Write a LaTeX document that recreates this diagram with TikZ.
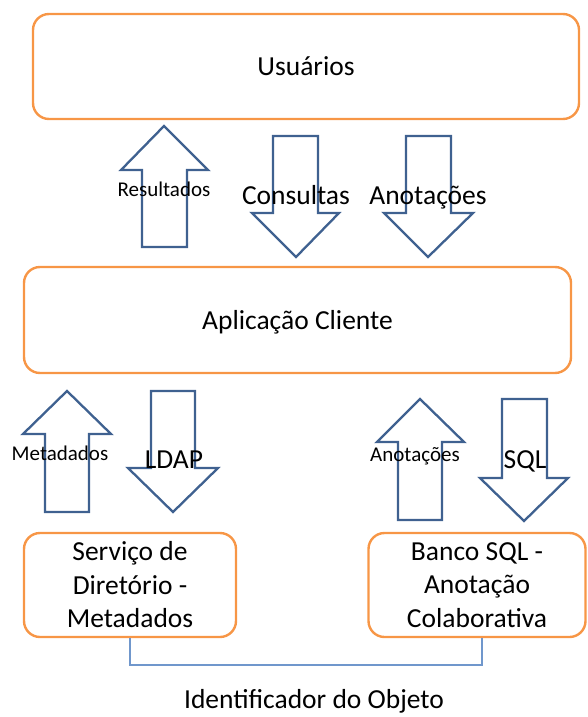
\documentclass[tikz,border=0pt]{standalone}
\usepackage{fontspec}
\setmainfont{Carlito}
\definecolor{boxorange}{HTML}{F79646}
\definecolor{arrowblue}{HTML}{3F6190}
\definecolor{connblue}{HTML}{7097CC}
\begin{document}
\begin{tikzpicture}[x=1pt,y=-1pt,
  box/.style={draw=boxorange,line width=2.4pt,rounded corners=16pt,inner sep=0pt,align=center,
    font=\fontsize{27.5}{33.5}\selectfont},
  fixedline/.style={text height=18pt,text depth=0pt},
  blockarrow/.style={draw=arrowblue,line width=2.3pt,line join=miter},
  biglabel/.style={inner sep=0pt,text height=18pt,text depth=0pt,font=\fontsize{27.5}{33.5}\selectfont},
  smalllabel/.style={inner sep=0pt,text height=13.6pt,text depth=0pt,font=\fontsize{21}{25}\selectfont},
  conn/.style={draw=connblue,line width=1.2pt}]
\useasboundingbox (0,0) rectangle (587,717);
% boxes
\node[box,fixedline,minimum width=546pt,minimum height=105pt] (usr) at (306,66.5) {Usuários};
\node[box,fixedline,minimum width=547pt,minimum height=106pt] (app) at (297.5,320) {Aplicação Cliente};
\node[box,minimum width=212pt,minimum height=104pt] (dir) at (130,585) {Serviço de\\Diretório -\\Metadados};
\node[box,minimum width=217pt,minimum height=104pt] (sql) at (477,585) {Banco SQL -\\Anotação\\Colaborativa};
% upper block arrows
\draw[blockarrow] (164,126) -- (208,170) -- (187,170) -- (187,247) -- (142,247) -- (142,170) -- (121,170) -- cycle;
\draw[blockarrow] (273,136) -- (318,136) -- (318,213) -- (339,213) -- (296,257) -- (252,213) -- (273,213) -- cycle;
\draw[blockarrow] (406,136) -- (451,136) -- (451,213) -- (473,213) -- (428,257) -- (384,213) -- (406,213) -- cycle;
% lower block arrows
\draw[blockarrow] (67,391) -- (111,434) -- (89,434) -- (89,512) -- (45,512) -- (45,434) -- (23,434) -- cycle;
\draw[blockarrow] (151,391) -- (195,391) -- (195,468) -- (218,468) -- (173,512) -- (128,468) -- (151,468) -- cycle;
\draw[blockarrow] (420,399) -- (464,442) -- (442,442) -- (442,520) -- (398,520) -- (398,442) -- (377,442) -- cycle;
\draw[blockarrow] (502,399) -- (547,399) -- (547,478) -- (568,478) -- (524,521) -- (480,478) -- (502,478) -- cycle;
% labels
\node[smalllabel] (lres) at (164,190) {Resultados};
\node[biglabel] (lcon) at (296,195) {Consultas};
\node[biglabel] (lano) at (428,195) {Anotações};
\node[smalllabel] (lmet) at (60,454) {Metadados};
\node[biglabel] (lldap) at (174,459) {LDAP};
\node[smalllabel] (lano2) at (415,455) {Anotações};
\node[biglabel] (lsql) at (525,459) {SQL};
% connector
\draw[conn] (dir.south) -- (dir.south |- 0,665) -| ([xshift=5pt]sql.south);
\node[biglabel] (lid) at (314,699) {Identificador do Objeto};
\end{tikzpicture}
\end{document}
